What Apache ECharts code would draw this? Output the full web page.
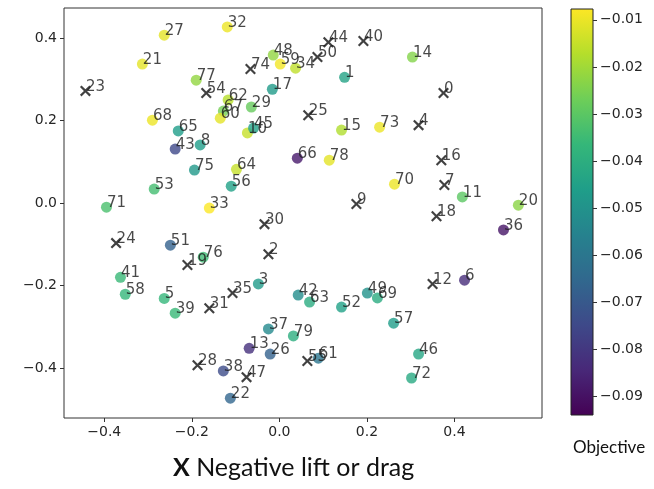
<!DOCTYPE html>
<html>
<head>
<meta charset="utf-8">
<script src="https://cdn.jsdelivr.net/npm/echarts@6/dist/echarts.min.js"></script>
<style>
  html, body { margin: 0; padding: 0; background: #fff; }
  #main { width: 654px; height: 489px; }
</style>
</head>
<body>
<div id="main"></div>
<script>
// points with an objective value (coloured circles)
var ptIds = [27, 32, 21, 77, 62, 67, 60, 29, 48, 59, 34, 14, 1, 17, 15, 73, 10, 45, 68, 65,
             8, 43, 75, 64, 56, 53, 71, 33, 51, 76, 66, 78, 70, 11, 20, 36, 41, 58, 5, 39,
             3, 13, 38, 22, 42, 63, 52, 49, 69, 6, 57, 37, 79, 26, 61, 46, 72];
var ptX = [-0.263, -0.119, -0.313, -0.190, -0.117, -0.128, -0.135, -0.064, -0.014, 0.002,
           0.037, 0.304, 0.149, -0.016, 0.142, 0.229, -0.073, -0.059, -0.290, -0.231,
           -0.181, -0.238, -0.194, -0.098, -0.110, -0.286, -0.395, -0.160, -0.249, -0.174,
           0.041, 0.114, 0.263, 0.418, 0.546, 0.512, -0.363, -0.352, -0.263, -0.238,
           -0.048, -0.069, -0.128, -0.112, 0.043, 0.069, 0.142, 0.201, 0.224, 0.423,
           0.261, -0.025, 0.032, -0.021, 0.089, 0.318, 0.302];
var ptY = [0.407, 0.427, 0.337, 0.298, 0.250, 0.223, 0.206, 0.233, 0.359, 0.337,
           0.327, 0.354, 0.305, 0.276, 0.177, 0.184, 0.170, 0.182, 0.201, 0.175,
           0.141, 0.131, 0.080, 0.082, 0.041, 0.034, -0.010, -0.012, -0.102, -0.131,
           0.109, 0.104, 0.046, 0.015, -0.005, -0.065, -0.180, -0.221, -0.231, -0.267,
           -0.196, -0.352, -0.407, -0.473, -0.223, -0.240, -0.252, -0.218, -0.230, -0.187,
           -0.291, -0.305, -0.322, -0.366, -0.376, -0.366, -0.424];
var ptObj = [-0.011, -0.010, -0.011, -0.022, -0.017, -0.026, -0.011, -0.028, -0.022, -0.009,
             -0.016, -0.024, -0.044, -0.047, -0.018, -0.010, -0.015, -0.045, -0.010, -0.046,
             -0.046, -0.075, -0.048, -0.015, -0.045, -0.034, -0.033, -0.008, -0.067, -0.035,
             -0.088, -0.011, -0.010, -0.030, -0.023, -0.089, -0.036, -0.037, -0.037, -0.036,
             -0.047, -0.082, -0.074, -0.066, -0.052, -0.041, -0.045, -0.050, -0.041, -0.083,
             -0.046, -0.053, -0.040, -0.067, -0.060, -0.043, -0.042];

// points with negative lift or drag (black x)
var negIds = [23, 54, 74, 50, 44, 40, 0, 25, 4, 16, 7, 9, 18, 30, 2, 24, 19, 31, 35, 28, 47, 55, 12];
var negX = [-0.443, -0.167, -0.066, 0.087, 0.112, 0.192, 0.375, 0.066, 0.318, 0.370, 0.377, 0.176,
            0.359, -0.034, -0.025, -0.373, -0.210, -0.160, -0.107, -0.187, -0.075, 0.064, 0.350];
var negY = [0.272, 0.267, 0.325, 0.354, 0.390, 0.393, 0.267, 0.213, 0.189, 0.104, 0.044, -0.002,
            -0.032, -0.051, -0.124, -0.097, -0.150, -0.255, -0.218, -0.393, -0.422, -0.383, -0.196];

var xTicks = [-0.4, -0.2, 0.0, 0.2, 0.4];
var yTicks = [-0.4, -0.2, 0.0, 0.2, 0.4];
var cbTicks = [-0.09, -0.08, -0.07, -0.06, -0.05, -0.04, -0.03, -0.02, -0.01];

var viridis = ['#440154', '#482878', '#3e4989', '#31688e', '#26828e',
               '#1f9e89', '#35b779', '#6ece58', '#b5de2b', '#fde725'];
var objMin = -0.094, objMax = -0.0077;

function mfmt(v, d) {
    var s = Math.abs(v).toFixed(d);
    return (v < -1e-9 ? '\u2212' : '') + s;
}

var ptData = ptIds.map(function (id, i) { return [ptX[i], ptY[i], ptObj[i], id]; });
var negData = negIds.map(function (id, i) { return [negX[i], negY[i], 0, id]; });

var gradStops = viridis.map(function (c, i) {
    return { offset: 1 - i / (viridis.length - 1), color: c };
});

var tickFont = { fontFamily: 'DejaVu Sans', fontSize: 14, color: '#262626' };
var lbl = {
    show: true,
    position: 'right',
    distance: 0,
    offset: [-5, -4],
    fontFamily: 'DejaVu Sans',
    fontSize: 15,
    color: '#1a1a1a',
    formatter: function (p) { return String(p.value[3]); }
};
// keep ticks on the frame edge, not on the zero line
var noLine = { show: false, onZero: false };

var myChart = echarts.init(document.getElementById('main'));
var option = {
    animation: false,
    backgroundColor: '#fff',
    grid: [
        { left: 64, right: 112, top: 8, bottom: 71, show: true, borderColor: '#333', borderWidth: 1 },
        { left: 571, width: 22, top: 9, height: 406, show: true, borderColor: '#222', borderWidth: 1,
          backgroundColor: { type: 'linear', x: 0, y: 0, x2: 0, y2: 1, colorStops: gradStops } }
    ],
    xAxis: [{
        type: 'value', gridIndex: 0, min: -0.492, max: 0.600,
        splitLine: { show: false },
        axisLine: noLine,
        axisTick: { show: true, length: 4, lineStyle: { color: '#333' }, customValues: xTicks },
        axisLabel: Object.assign({ margin: 7, customValues: xTicks,
            formatter: function (v) { return mfmt(v, 1); } }, tickFont)
    }, {
        type: 'value', gridIndex: 1, min: 0, max: 1, show: false
    }],
    yAxis: [{
        type: 'value', gridIndex: 0, min: -0.521, max: 0.473,
        splitLine: { show: false },
        axisLine: noLine,
        axisTick: { show: true, length: 4, lineStyle: { color: '#333' }, customValues: yTicks },
        axisLabel: Object.assign({ margin: 7, customValues: yTicks,
            formatter: function (v) { return mfmt(v, 1); } }, tickFont)
    }, {
        type: 'value', gridIndex: 1, position: 'right', min: objMin, max: objMax,
        splitLine: { show: false },
        axisLine: noLine,
        axisTick: { show: true, length: 4, lineStyle: { color: '#333' }, customValues: cbTicks },
        axisLabel: Object.assign({ margin: 7, customValues: cbTicks,
            formatter: function (v) { return mfmt(v, 2); } }, tickFont)
    }],
    visualMap: {
        type: 'continuous', show: false, seriesIndex: 0, dimension: 2,
        min: objMin, max: objMax, inRange: { color: viridis }
    },
    series: [{
        name: 'Objective',
        type: 'scatter',
        xAxisIndex: 0, yAxisIndex: 0,
        symbol: 'circle',
        symbolSize: 11,
        data: ptData,
        label: lbl,
        z: 2
    }, {
        name: 'Negative lift or drag',
        type: 'scatter',
        xAxisIndex: 0, yAxisIndex: 0,
        symbol: 'path://M1.4,0 L5,3.6 L8.6,0 L10,1.4 L6.4,5 L10,8.6 L8.6,10 L5,6.4 L1.4,10 L0,8.6 L3.6,5 L0,1.4 Z',
        symbolSize: 11,
        itemStyle: { color: '#111' },
        data: negData,
        label: lbl,
        z: 3
    }],
    title: [{
        text: '{b|X} Negative lift or drag',
        left: 168, top: 450,
        textStyle: {
            fontFamily: 'Lato', fontSize: 25, fontWeight: 'normal', color: '#111',
            rich: { b: { fontFamily: 'Lato', fontSize: 25, fontWeight: 'bold', color: '#111' } }
        }
    }, {
        text: 'Objective',
        left: 568, top: 434,
        textStyle: { fontFamily: 'Lato', fontSize: 17, fontWeight: 'normal', color: '#111' }
    }]
};
myChart.setOption(option);
</script>
</body>
</html>
